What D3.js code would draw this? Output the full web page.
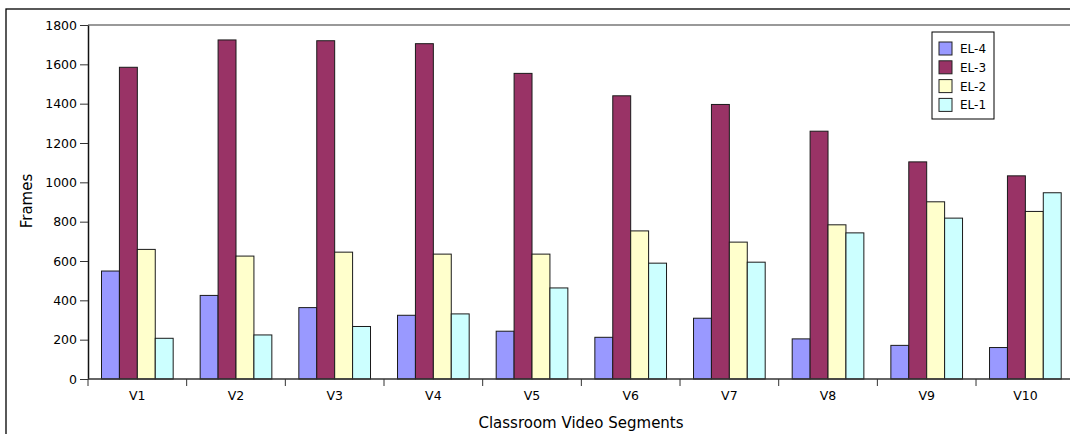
<!DOCTYPE html>
<html>
<head>
<meta charset="utf-8">
<script src="https://cdn.jsdelivr.net/npm/d3@7"></script>
<style>
  body { margin: 0; background: #fff; }
  svg { display: block; font-family: "DejaVu Sans", sans-serif; }
</style>
</head>
<body>
<svg id="chart"></svg>
<script>
// bar chart of frames per video segment, one bar per EL level

const svgWidth = 1070;
const svgHeight = 434;

const segments = ["V1", "V2", "V3", "V4", "V5", "V6", "V7", "V8", "V9", "V10"];
const series = ["EL-4", "EL-3", "EL-2", "EL-1"];
const el4 = [549, 425, 363, 324, 243, 212, 309, 204, 171, 160];
const el3 = [1585, 1724, 1720, 1705, 1554, 1440, 1396, 1260, 1104, 1033];
const el2 = [659, 625, 645, 635, 635, 753, 696, 784, 901, 852];
const el1 = [207, 224, 267, 331, 463, 589, 594, 743, 818, 947];
const yTicks = [0, 200, 400, 600, 800, 1000, 1200, 1400, 1600, 1800];

const values = [el4, el3, el2, el1];
const colors = ["#9999ff", "#993366", "#ffffcc", "#ccffff"];

const margin = { top: 25, left: 88, bottom: 379 };
const bandW = 98.67;

const svg = d3.select("#chart")
    .attr("width", svgWidth)
    .attr("height", svgHeight);

// outer frame
svg.append("rect")
    .attr("x", 6).attr("y", 9)
    .attr("width", 1080).attr("height", 440)
    .attr("fill", "none")
    .attr("stroke", "#000")
    .attr("stroke-width", 1.3);

const xScale = d3.scaleBand()
    .domain(segments)
    .range([margin.left, margin.left + bandW * segments.length]);

const xInner = d3.scaleBand()
    .domain(series)
    .range([13.5, bandW - 13.5]);

const yScale = d3.scaleLinear()
    .domain([0, 1800])
    .range([margin.bottom, margin.top]);

// top border of plot area
svg.append("line")
    .attr("x1", margin.left).attr("x2", svgWidth + 10)
    .attr("y1", margin.top).attr("y2", margin.top)
    .attr("stroke", "#999")
    .attr("stroke-width", 2);

const groups = svg.append("g")
    .selectAll("g")
    .data(segments)
    .join("g")
    .attr("transform", d => `translate(${xScale(d)},0)`);

groups.selectAll("rect")
    .data((d, i) => series.map((s, j) => ({ s, v: values[j][i], c: colors[j] })))
    .join("rect")
    .attr("x", d => xInner(d.s))
    .attr("y", d => yScale(d.v))
    .attr("width", xInner.bandwidth())
    .attr("height", d => yScale(0) - yScale(d.v))
    .attr("fill", d => d.c)
    .attr("stroke", "#1a1a1a")
    .attr("stroke-width", 1);

// y axis
const yAxis = svg.append("g")
    .attr("transform", `translate(${margin.left},0)`)
    .call(d3.axisLeft(yScale).tickValues(yTicks).tickFormat(d3.format("d"))
        .tickSize(8).tickPadding(3).tickSizeOuter(0));
yAxis.attr("font-size", null).attr("font-family", null);
yAxis.select(".domain").attr("stroke", "#111").attr("stroke-width", 1.5);
yAxis.selectAll(".tick line").attr("stroke", "#333");
yAxis.selectAll("text").style("font-size", "12.5px").attr("fill", "#000");

// x axis: ticks at the band edges
const xAxis = svg.append("g")
    .attr("transform", `translate(0,${margin.bottom})`);
xAxis.append("line")
    .attr("x1", margin.left).attr("x2", svgWidth + 10)
    .attr("stroke", "#333").attr("stroke-width", 1.5);
xAxis.selectAll(".edge")
    .data(segments)
    .join("line")
    .attr("class", "edge")
    .attr("x1", d => xScale(d)).attr("x2", d => xScale(d))
    .attr("y1", 0).attr("y2", 7)
    .attr("stroke", "#333");
xAxis.selectAll(".lbl")
    .data(segments)
    .join("text")
    .attr("class", "lbl")
    .attr("x", d => xScale(d) + xScale.bandwidth() / 2)
    .attr("y", 21)
    .attr("text-anchor", "middle")
    .style("font-size", "12.5px")
    .text(d => d);

// axis titles
svg.append("text")
    .attr("x", 581).attr("y", 428)
    .attr("text-anchor", "middle")
    .style("font-size", "15px")
    .text("Classroom Video Segments");

svg.append("text")
    .attr("transform", "translate(32,201) rotate(-90)")
    .attr("text-anchor", "middle")
    .style("font-size", "15px")
    .text("Frames");

// legend
const legend = svg.append("g").attr("transform", "translate(932,32)");
legend.append("rect")
    .attr("width", 62).attr("height", 87)
    .attr("fill", "#fff")
    .attr("stroke", "#000");
const items = legend.selectAll(".item")
    .data(series)
    .join("g")
    .attr("class", "item")
    .attr("transform", (d, i) => `translate(7,${10 + i * 18.8})`);
items.append("rect")
    .attr("width", 13).attr("height", 13)
    .attr("fill", (d, i) => colors[i])
    .attr("stroke", "#222");
items.append("text")
    .attr("x", 21).attr("y", 11)
    .style("font-size", "12px")
    .text(d => d);
</script>
</body>
</html>
